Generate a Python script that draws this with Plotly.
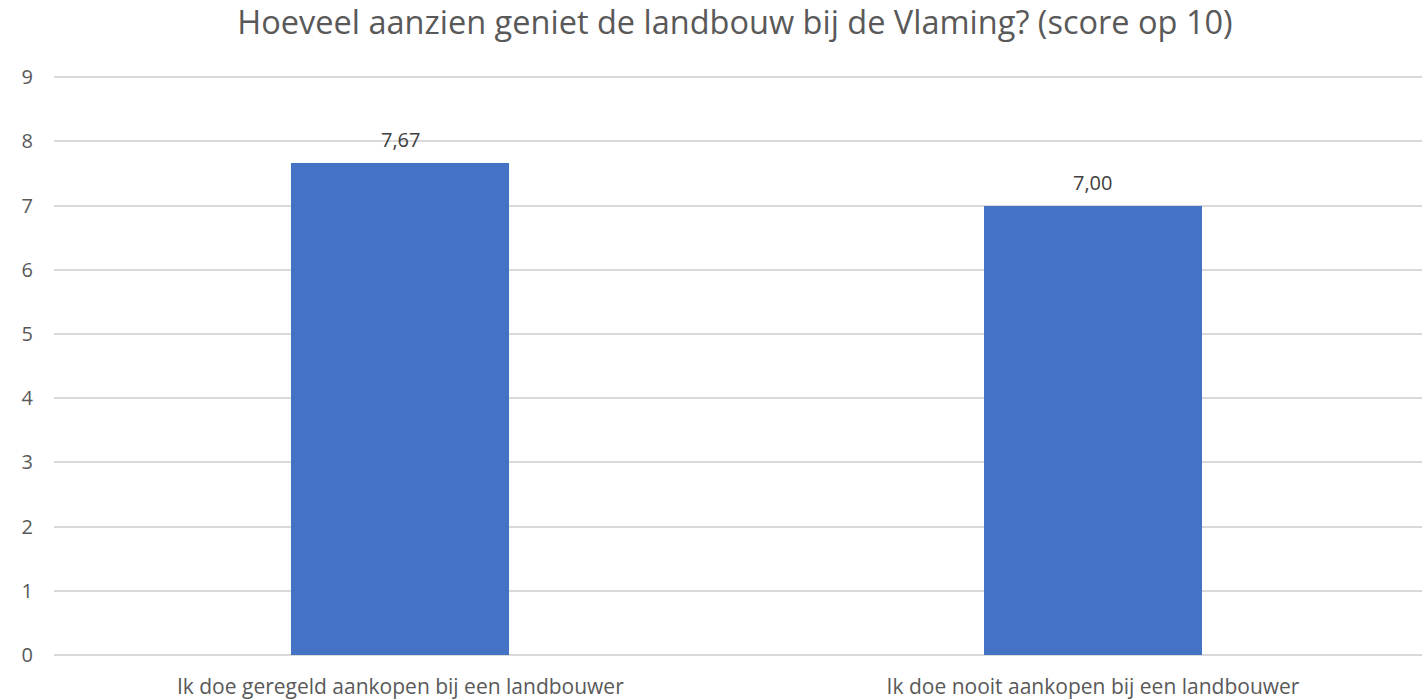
import plotly.graph_objects as go

categories = ["Ik doe geregeld aankopen bij een landbouwer", "Ik doe nooit aankopen bij een landbouwer"]
scores = [7.67, 7.00]
y_ticks = [0, 1, 2, 3, 4, 5, 6, 7, 8, 9]

fig = go.Figure()
fig.add_trace(go.Bar(
    x=categories, y=scores,
    marker=dict(color="#4472C4", line=dict(width=0)),
    width=0.315,
    hoverinfo="skip",
))
for c, v in zip(categories, scores):
    fig.add_annotation(x=c, y=v, text=f"{v:.2f}".replace(".", ","), showarrow=False,
                       yanchor="bottom", yshift=8,
                       font=dict(family="Open Sans", size=20, color="#404040"))
fig.update_layout(
    width=1422, height=699,
    paper_bgcolor="white", plot_bgcolor="white",
    margin=dict(l=54, r=0, t=74, b=44),
    title=dict(text="Hoeveel aanzien geniet de landbouw bij de Vlaming? (score op 10)",
               x=735 / 1422, xanchor="center", y=1 - 23 / 699, yanchor="middle",
               font=dict(family="Open Sans", size=32.5, color="#595959")),
    showlegend=False,
    bargap=0,
)
fig.update_xaxes(range=[-0.5, 1.475], showgrid=False, showline=False, ticks="",
                 tickfont=dict(family="Open Sans", size=21, color="#595959"),
                 ticklabelstandoff=17)
fig.update_yaxes(range=[0, 9.05], tickvals=y_ticks, showgrid=True, gridcolor="#d9d9d9", gridwidth=1.5,
                 zeroline=True, zerolinecolor="#d9d9d9", zerolinewidth=1.5, showline=False, ticks="",
                 tickfont=dict(family="Open Sans", size=20, color="#595959"),
                 ticklabelstandoff=20)
fig.write_html("out.html", config={"displayModeBar": False},
               post_script="document.body.style.margin='0';document.body.style.overflow='hidden';")
